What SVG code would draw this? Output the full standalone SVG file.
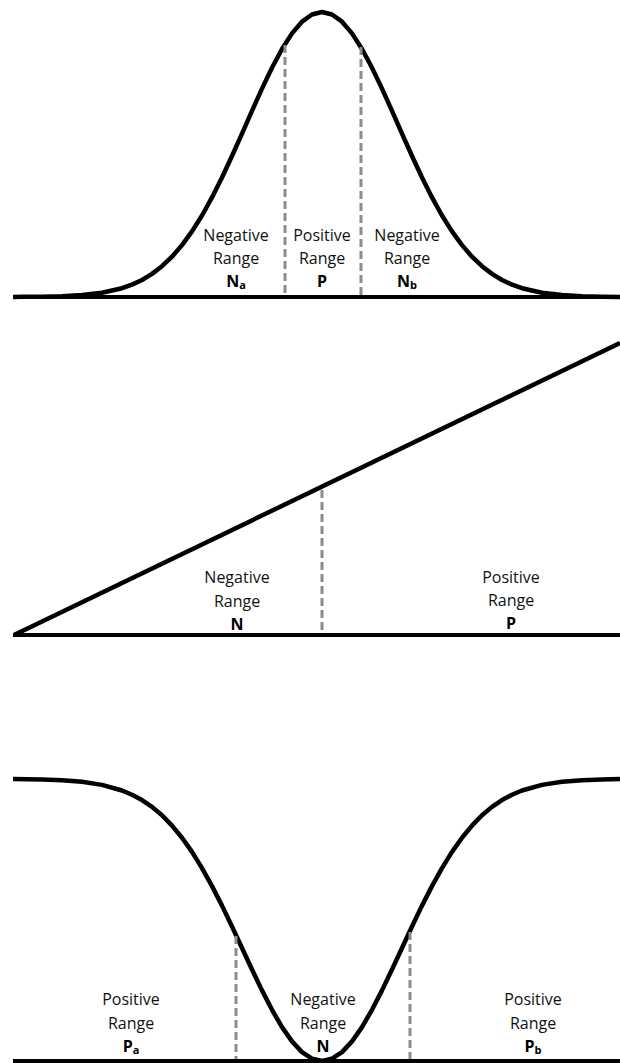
<svg xmlns="http://www.w3.org/2000/svg" width="620" height="1063" viewBox="0 0 620 1063">
<style>
.curve{fill:none;stroke:#000;stroke-width:4.5;stroke-linejoin:round;stroke-linecap:butt}
.base{fill:none;stroke:#000;stroke-width:4}
.dash{fill:none;stroke:#8c8c8c;stroke-width:3;stroke-dasharray:8 4}
.lbl{font-family:"Open Sans","Liberation Sans",sans-serif;font-size:16px;fill:#111;text-anchor:middle}
.b{font-weight:bold;fill:#000}
.sub{font-size:11px}
</style>
<rect width="620" height="1063" fill="#fff"/>
<g id="panel-top">
<line class="base" x1="13" y1="297" x2="620" y2="297"/>
<polyline class="curve" points="13,297 24,296.7 42,296.7 62,296.2 82,295.1 102,292.8 122,288.2 132,284.6 142,280 152,273.9 162,266.2 172,256.7 182,245.1 192,231.4 202,215.5 212,197.4 222,177.5 232,156 242,133.6 252,110.8 262,88.6 272,67.7 282,49 292,33.4 302,21.7 312,14.5 322,12 332,14.5 342,21.7 352,33.4 362,49 372,67.7 382,88.6 392,110.8 402,133.6 412,156 422,177.5 432,197.4 442,215.5 452,231.4 462,245.1 472,256.7 482,266.2 492,273.9 502,280 512,284.6 522,288.2 542,292.8 562,295.1 582,296.2 602,296.7 620,297"/>
<line class="dash" x1="285" y1="45" x2="285" y2="295"/>
<line class="dash" x1="361" y1="47" x2="361" y2="295"/>
<text class="lbl" x="236" y="241">Negative</text>
<text class="lbl" x="236" y="264">Range</text>
<text class="lbl b" x="236" y="287">N<tspan class="sub" dy="2">a</tspan></text>
<text class="lbl" x="322" y="241">Positive</text>
<text class="lbl" x="322" y="264">Range</text>
<text class="lbl b" x="322" y="287">P</text>
<text class="lbl" x="407" y="241">Negative</text>
<text class="lbl" x="407" y="264">Range</text>
<text class="lbl b" x="407" y="287">N<tspan class="sub" dy="2">b</tspan></text>
</g>
<g id="panel-middle">
<line class="base" x1="13" y1="635" x2="620" y2="635"/>
<line class="curve" x1="14" y1="635" x2="620" y2="343"/>
<line class="dash" x1="322" y1="490" x2="322" y2="633"/>
<text class="lbl" x="237" y="583">Negative</text>
<text class="lbl" x="237" y="607">Range</text>
<text class="lbl b" x="237" y="630">N</text>
<text class="lbl" x="511" y="583">Positive</text>
<text class="lbl" x="511" y="606">Range</text>
<text class="lbl b" x="511" y="629">P</text>
</g>
<g id="panel-bottom">
<line class="base" x1="13" y1="1061" x2="620" y2="1061"/>
<polyline class="curve" points="13,779 42,779.5 62,780.3 82,781.8 102,784.9 122,790.5 132,794.7 142,800.1 152,806.9 162,815.3 172,825.6 182,837.7 192,851.9 202,868.1 212,886.1 222,905.6 232,926.5 242,948 252,969.5 262,990.4 272,1009.8 282,1027.1 292,1041.4 302,1052.1 312,1058.7 322,1061 332,1058.7 342,1052.1 352,1041.4 362,1027.1 372,1009.8 382,990.4 392,969.5 402,948 412,926.5 422,905.6 432,886.1 442,868.1 452,851.9 462,837.7 472,825.6 482,815.3 492,806.9 502,800.1 512,794.7 522,790.5 542,784.9 562,781.8 582,780.3 602,779.5 620,779"/>
<line class="dash" x1="236" y1="936" x2="236" y2="1059"/>
<line class="dash" x1="410" y1="932" x2="410" y2="1059"/>
<text class="lbl" x="131" y="1005">Positive</text>
<text class="lbl" x="131" y="1029">Range</text>
<text class="lbl b" x="131" y="1052">P<tspan class="sub" dy="2">a</tspan></text>
<text class="lbl" x="323" y="1005">Negative</text>
<text class="lbl" x="323" y="1029">Range</text>
<text class="lbl b" x="323" y="1052">N</text>
<text class="lbl" x="533" y="1005">Positive</text>
<text class="lbl" x="533" y="1029">Range</text>
<text class="lbl b" x="533" y="1052">P<tspan class="sub" dy="2">b</tspan></text>
</g>
</svg>
